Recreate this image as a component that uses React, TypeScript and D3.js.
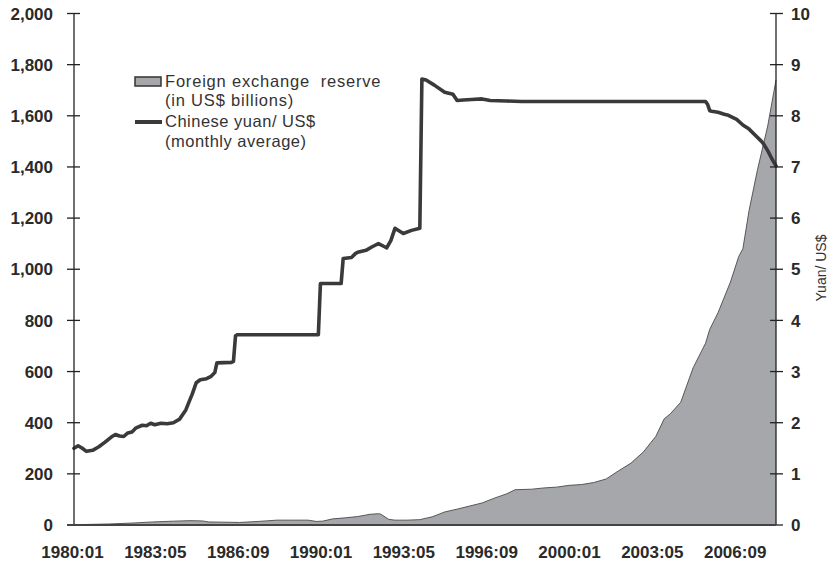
import React from "react";
import * as d3 from "d3";

const yuanDates = [
  "1980:01","1980:03","1980:05","1980:07","1980:10","1981:01","1981:04","1981:07","1981:09","1981:11",
  "1982:01","1982:03","1982:05","1982:07","1982:10","1982:12","1983:02","1983:04","1983:07","1983:10",
  "1984:01","1984:04","1984:07","1984:09","1984:10","1984:12","1985:02","1985:05","1985:07","1985:09",
  "1985:10","1986:05","1986:06","1986:07","1986:08","1989:11","1989:12","1990:10","1990:11","1991:03",
  "1991:05","1991:06","1991:10","1992:01","1992:04","1992:07","1992:08","1992:10","1992:12","1993:04",
  "1993:08","1993:12","1994:01","1994:03","1994:07","1994:12","1995:04","1995:06","1995:09","1996:01",
  "1996:06","1996:10","1997:06","1998:01","2005:06","2005:07","2005:08","2005:09","2005:12","2006:03",
  "2006:05","2006:09","2006:12","2007:03","2007:06","2007:09","2007:10","2007:12","2008:02","2008:04"
];
const yuanValues = [
  1.50,1.55,1.50,1.44,1.46,1.53,1.62,1.72,1.77,1.74,
  1.73,1.80,1.82,1.90,1.95,1.94,1.99,1.96,1.99,1.98,
  2.00,2.07,2.25,2.45,2.55,2.78,2.84,2.86,2.90,2.98,
  3.17,3.18,3.20,3.70,3.72,3.72,4.72,4.72,5.21,5.23,
  5.31,5.33,5.37,5.44,5.50,5.44,5.42,5.56,5.80,5.70,
  5.76,5.80,8.72,8.70,8.60,8.46,8.42,8.30,8.31,8.32,
  8.33,8.30,8.29,8.28,8.28,8.22,8.10,8.09,8.07,8.03,
  8.01,7.93,7.82,7.74,7.62,7.50,7.45,7.32,7.16,7.02
];

const reserveDates = [
  "1980:01","1980:06","1981:06","1982:06","1983:03","1984:01","1984:09","1985:03","1985:06","1986:01",
  "1986:09","1987:06","1988:03","1988:12","1989:06","1989:10","1990:01","1990:06","1990:12","1991:06",
  "1991:12","1992:04","1992:05","1992:09","1992:12","1993:06","1993:12","1994:06","1994:12","1995:06",
  "1995:12","1996:06","1996:12","1997:06","1997:10","1998:06","1998:12","1999:06","1999:12","2000:06",
  "2000:12","2001:06","2001:12","2002:06","2002:12","2003:06","2003:10","2004:01","2004:06","2004:12",
  "2005:06","2005:08","2005:12","2006:06","2006:10","2006:12","2007:03","2007:07","2007:12","2008:02",
  "2008:04"
];
const reserveValues = [
  2,2,4,8,12,15,17,16,12,11,
  10,14,19,19,19,14,15,24,28,33,
  42,44,43,22,19,19,21,32,51,62,
  74,86,105,122,138,140,145,148,155,158,
  166,180,212,242,286,347,415,435,480,615,
  711,765,830,950,1050,1080,1230,1387,1560,1650,
  1740
];

const leftTicks = [0, 200, 400, 600, 800, 1000, 1200, 1400, 1600, 1800, 2000];
const rightTicks = [0, 1, 2, 3, 4, 5, 6, 7, 8, 9, 10];
const xTickLabels = ["1980:01","1983:05","1986:09","1990:01","1993:05","1996:09","2000:01","2003:05","2006:09"];

const legendLabels = [
  ["Foreign exchange  reserve", "(in US$ billions)"],
  ["Chinese yuan/ US$", "(monthly average)"],
];

const monthIndex = (s: string) => {
  const [y, m] = s.split(":").map(Number);
  return (y - 1980) * 12 + (m - 1);
};

const W = 836, H = 567;
const left = 74, right = 776, top = 13.5, bottom = 525;
const lastIdx = monthIndex("2008:04");

export default function App() {
  const x = d3.scaleLinear().domain([0, lastIdx]).range([left, right]);
  const yL = d3.scaleLinear().domain([0, 2000]).range([bottom, top]);
  const yR = d3.scaleLinear().domain([0, 10]).range([bottom, top]);

  const resData = reserveDates.map((d, i) => ({ i: monthIndex(d), v: reserveValues[i] }));
  const yuanData = yuanDates.map((d, i) => ({ i: monthIndex(d), v: yuanValues[i] }));

  const area = d3.area<{ i: number; v: number }>()
    .x(d => x(d.i)).y0(bottom).y1(d => yL(d.v));
  const areaTop = d3.line<{ i: number; v: number }>()
    .x(d => x(d.i)).y(d => yL(d.v));
  const line = d3.line<{ i: number; v: number }>()
    .x(d => x(d.i)).y(d => yR(d.v));

  const font = "'Liberation Sans', Arial, Helvetica, sans-serif";

  return (
    <svg width={W} height={H} style={{ position: "absolute", left: 0, top: 0, background: "#fff" }}
      fontFamily={font}>
      <rect x={0} y={0} width={W} height={H} fill="#fff" />
      <path d={area(resData) || ""} fill="#a6a7ab" />
      <path d={areaTop(resData) || ""} fill="none" stroke="#4a4a4a" strokeWidth={0.9} />
      <path d={line(yuanData) || ""} fill="none" stroke="#3a3a3a" strokeWidth={3.6}
        strokeLinejoin="round" strokeLinecap="round" />

      {/* left axis */}
      <line x1={left} x2={left} y1={top} y2={bottom} stroke="#222" strokeWidth={1.3} />
      {leftTicks.map(t => (
        <g key={"l" + t}>
          <line x1={left - 7} x2={left + 6} y1={yL(t)} y2={yL(t)} stroke="#222" strokeWidth={1.3} />
          <text x={53} y={yL(t)} dy="0.36em" textAnchor="end" fontSize={17} fontWeight="bold" fill="#2a2a2a">
            {d3.format(",")(t)}
          </text>
        </g>
      ))}

      {/* right axis */}
      <line x1={right} x2={right} y1={top} y2={bottom} stroke="#222" strokeWidth={1.3} />
      {rightTicks.map(t => (
        <g key={"r" + t}>
          <line x1={right - 6} x2={right + 7} y1={yR(t)} y2={yR(t)} stroke="#222" strokeWidth={1.3} />
          <text x={791} y={yR(t)} dy="0.36em" textAnchor="start" fontSize={17} fontWeight="bold" fill="#2a2a2a">
            {t}
          </text>
        </g>
      ))}
      <text transform={`translate(826,${268}) rotate(-90)`} textAnchor="middle" fontSize={14} fill="#333">
        Yuan/ US$
      </text>

      {/* x axis */}
      <line x1={left - 7} x2={right} y1={bottom} y2={bottom} stroke="#444" strokeWidth={2} />
      {xTickLabels.map(l => (
        <text key={l} x={x(monthIndex(l)) - 1.5} y={558} textAnchor="middle" fontSize={17} fontWeight="bold" fill="#2a2a2a">
          {l}
        </text>
      ))}

      {/* legend */}
      <rect x={135} y={77} width={26} height={9} fill="#a6a7ab" stroke="#333" strokeWidth={1.5} />
      <line x1={135} x2={162} y1={122} y2={122} stroke="#3a3a3a" strokeWidth={4} />
      {[87, 106].map((yy, k) => (
        <text key={"a" + k} x={165} y={yy} fontSize={16.5} letterSpacing={0.8} fill="#333" style={{ whiteSpace: "pre" }}>
          {legendLabels[0][k]}
        </text>
      ))}
      {[127, 147].map((yy, k) => (
        <text key={"b" + k} x={165} y={yy} fontSize={16.5} letterSpacing={0.5} fill="#333" style={{ whiteSpace: "pre" }}>
          {legendLabels[1][k]}
        </text>
      ))}
    </svg>
  );
}
